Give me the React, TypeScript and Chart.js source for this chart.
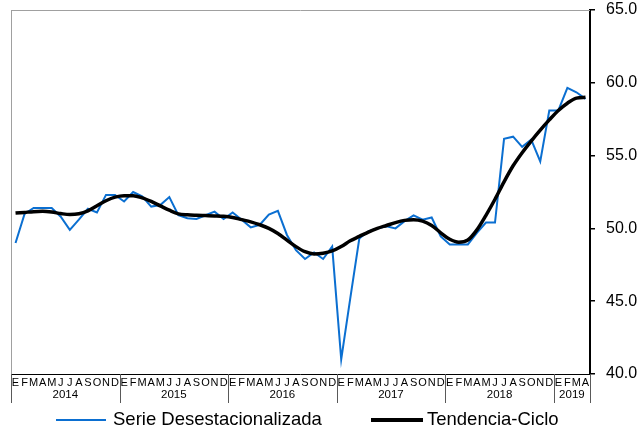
import React, { useEffect, useRef } from 'react';
import { Chart, registerables } from 'chart.js';

Chart.register(...registerables);

const monthLetters = ['E', 'F', 'M', 'A', 'M', 'J', 'J', 'A', 'S', 'O', 'N', 'D'];
const years = ['2014', '2015', '2016', '2017', '2018', '2019'];
const monthsPerYear = [12, 12, 12, 12, 12, 4];

const serieDesestacionalizada = [
  49.0, 51.0, 51.4, 51.4, 51.4, 50.8, 49.9, 50.6, 51.35, 51.1, 52.3, 52.3,
  51.85, 52.5, 52.2, 51.5, 51.6, 52.15, 50.9, 50.7, 50.65, 50.9, 51.15, 50.65,
  51.1, 50.6, 50.07, 50.25, 50.95, 51.2, 49.55, 48.5, 47.9, 48.35, 47.9, 48.75,
  41.0, 45.2, 49.3, 49.8, 50.0, 50.15, 50.0, 50.5, 50.9, 50.6, 50.75, 49.45,
  48.9, 48.9, 48.9, 49.7, 50.4, 50.4, 56.15, 56.3, 55.6, 56.1, 54.6, 58.1,
  58.1, 59.65, 59.35, 58.9,
];

const tendenciaCiclo = [
  51.05, 51.1, 51.15, 51.17, 51.12, 51.02, 50.95, 51.0, 51.2, 51.55, 51.9, 52.15,
  52.25, 52.25, 52.1, 51.85, 51.55, 51.25, 51.0, 50.93, 50.9, 50.88, 50.86, 50.83,
  50.75, 50.6, 50.45, 50.25, 50.0, 49.65, 49.2, 48.75, 48.4, 48.25, 48.3, 48.45,
  48.75, 49.15, 49.45, 49.75, 50.0, 50.2, 50.4, 50.55, 50.6, 50.5, 50.2, 49.7,
  49.25, 49.05, 49.2, 49.9, 50.9, 52.0, 53.2, 54.3, 55.2, 56.0, 56.75, 57.45,
  58.1, 58.6, 58.95, 59.0,
];

const yMin = 40;
const yMax = 65;
const yStep = 5;

const seriesNames = ['Serie Desestacionalizada', 'Tendencia-Ciclo'];
const seriesColors = ['#0b6fd1', '#000000'];

const categories: string[] = [];
years.forEach((y, yi) => {
  for (let m = 0; m < monthsPerYear[yi]; m++) categories.push(`${monthLetters[m]} ${y}`);
});

const FONT = '"Liberation Sans", Arial, sans-serif';

const axisPlugin = {
  id: 'customAxis',
  afterDraw(chart: any) {
    const ctx = chart.ctx as CanvasRenderingContext2D;
    const area = chart.chartArea;
    const xs = chart.scales.x;
    const n = categories.length;
    const bin = (area.right - area.left) / n;
    const sepBottom = area.bottom + 29;
    ctx.save();
    // top & left frame
    ctx.strokeStyle = '#a0a0a0';
    ctx.lineWidth = 1;
    ctx.beginPath();
    ctx.moveTo(area.left, Math.round(area.top) + 0.5);
    ctx.lineTo(area.right, Math.round(area.top) + 0.5);
    ctx.stroke();
    ctx.beginPath();
    ctx.moveTo(Math.round(area.left) + 0.5, area.top);
    ctx.lineTo(Math.round(area.left) + 0.5, area.bottom);
    ctx.stroke();
    // bottom axis
    ctx.strokeStyle = '#000';
    ctx.lineWidth = 1;
    ctx.beginPath();
    ctx.moveTo(area.left, Math.round(area.bottom) + 0.5);
    ctx.lineTo(area.right, Math.round(area.bottom) + 0.5);
    ctx.stroke();
    // year separators
    ctx.strokeStyle = '#595959';
    let idx = 0;
    const bounds: number[] = [];
    for (let yi = 0; yi <= years.length; yi++) {
      const px = idx < n ? xs.getPixelForValue(idx) - bin / 2 : xs.getPixelForValue(n - 1) + bin / 2;
      bounds.push(px);
      ctx.beginPath();
      ctx.moveTo(Math.round(px) + 0.5, area.bottom);
      ctx.lineTo(Math.round(px) + 0.5, sepBottom);
      ctx.stroke();
      if (yi < years.length) idx += monthsPerYear[yi];
    }
    // month letters
    ctx.fillStyle = '#000';
    ctx.textAlign = 'center';
    ctx.textBaseline = 'middle';
    ctx.font = `11px ${FONT}`;
    for (let i = 0; i < n; i++) {
      ctx.fillText(monthLetters[i % 12], xs.getPixelForValue(i), area.bottom + 8.5);
    }
    // years
    ctx.font = `11.5px ${FONT}`;
    years.forEach((y, yi) => {
      ctx.fillText(y, (bounds[yi] + bounds[yi + 1]) / 2, area.bottom + 20.5);
    });
    // legend
    const ly = 420;
    const legend = [
      { x0: 56, x1: 106, tx: 113, w: 2 },
      { x0: 371, x1: 423, tx: 427, w: 4 },
    ];
    ctx.textAlign = 'left';
    ctx.font = `18.5px ${FONT}`;
    legend.forEach((l, i) => {
      ctx.strokeStyle = seriesColors[i];
      ctx.lineWidth = l.w;
      ctx.beginPath();
      ctx.moveTo(l.x0, ly);
      ctx.lineTo(l.x1, ly);
      ctx.stroke();
      ctx.fillStyle = '#000';
      ctx.fillText(seriesNames[i], l.tx, ly);
    });
    ctx.restore();
  },
};

export default function App() {
  const ref = useRef<HTMLCanvasElement | null>(null);
  useEffect(() => {
    if (!ref.current) return;
    const chart = new Chart(ref.current, {
      type: 'line',
      data: {
        labels: categories,
        datasets: [
          {
            label: seriesNames[0],
            data: serieDesestacionalizada,
            borderColor: seriesColors[0],
            backgroundColor: seriesColors[0],
            borderWidth: 2,
            pointRadius: 0,
            tension: 0,
            order: 1,
          },
          {
            label: seriesNames[1],
            data: tendenciaCiclo,
            borderColor: seriesColors[1],
            backgroundColor: seriesColors[1],
            borderWidth: 3.5,
            pointRadius: 0,
            tension: 0.4,
            cubicInterpolationMode: 'monotone',
            order: 0,
          },
        ],
      },
      options: {
        animation: false,
        responsive: false,
        layout: { padding: { left: 11, top: 10, right: 0, bottom: 57 } },
        plugins: { legend: { display: false }, tooltip: { enabled: false } },
        scales: {
          x: { type: 'category', offset: true, display: false },
          y: {
            position: 'right',
            min: yMin,
            max: yMax,
            afterFit: (s: any) => {
              s.width = 52;
              s.paddingTop = 0;
              s.paddingBottom = 0;
            },
            ticks: {
              stepSize: yStep,
              color: '#000',
              padding: 11,
              font: { family: FONT, size: 16 },
              callback: (v: any) => Number(v).toFixed(1),
            },
            grid: { drawOnChartArea: false, drawTicks: true, tickLength: 5, color: '#000', lineWidth: 1.5 },
            border: { display: true, color: '#000', width: 2 },
          },
        },
      },
      plugins: [axisPlugin],
    } as any);
    return () => chart.destroy();
  }, []);
  return (
    <div style={{ position: 'fixed', left: 0, top: 0, width: 642, height: 431, background: '#fff' }}>
      <canvas ref={ref} width={642} height={431} style={{ display: 'block' }} />
    </div>
  );
}
